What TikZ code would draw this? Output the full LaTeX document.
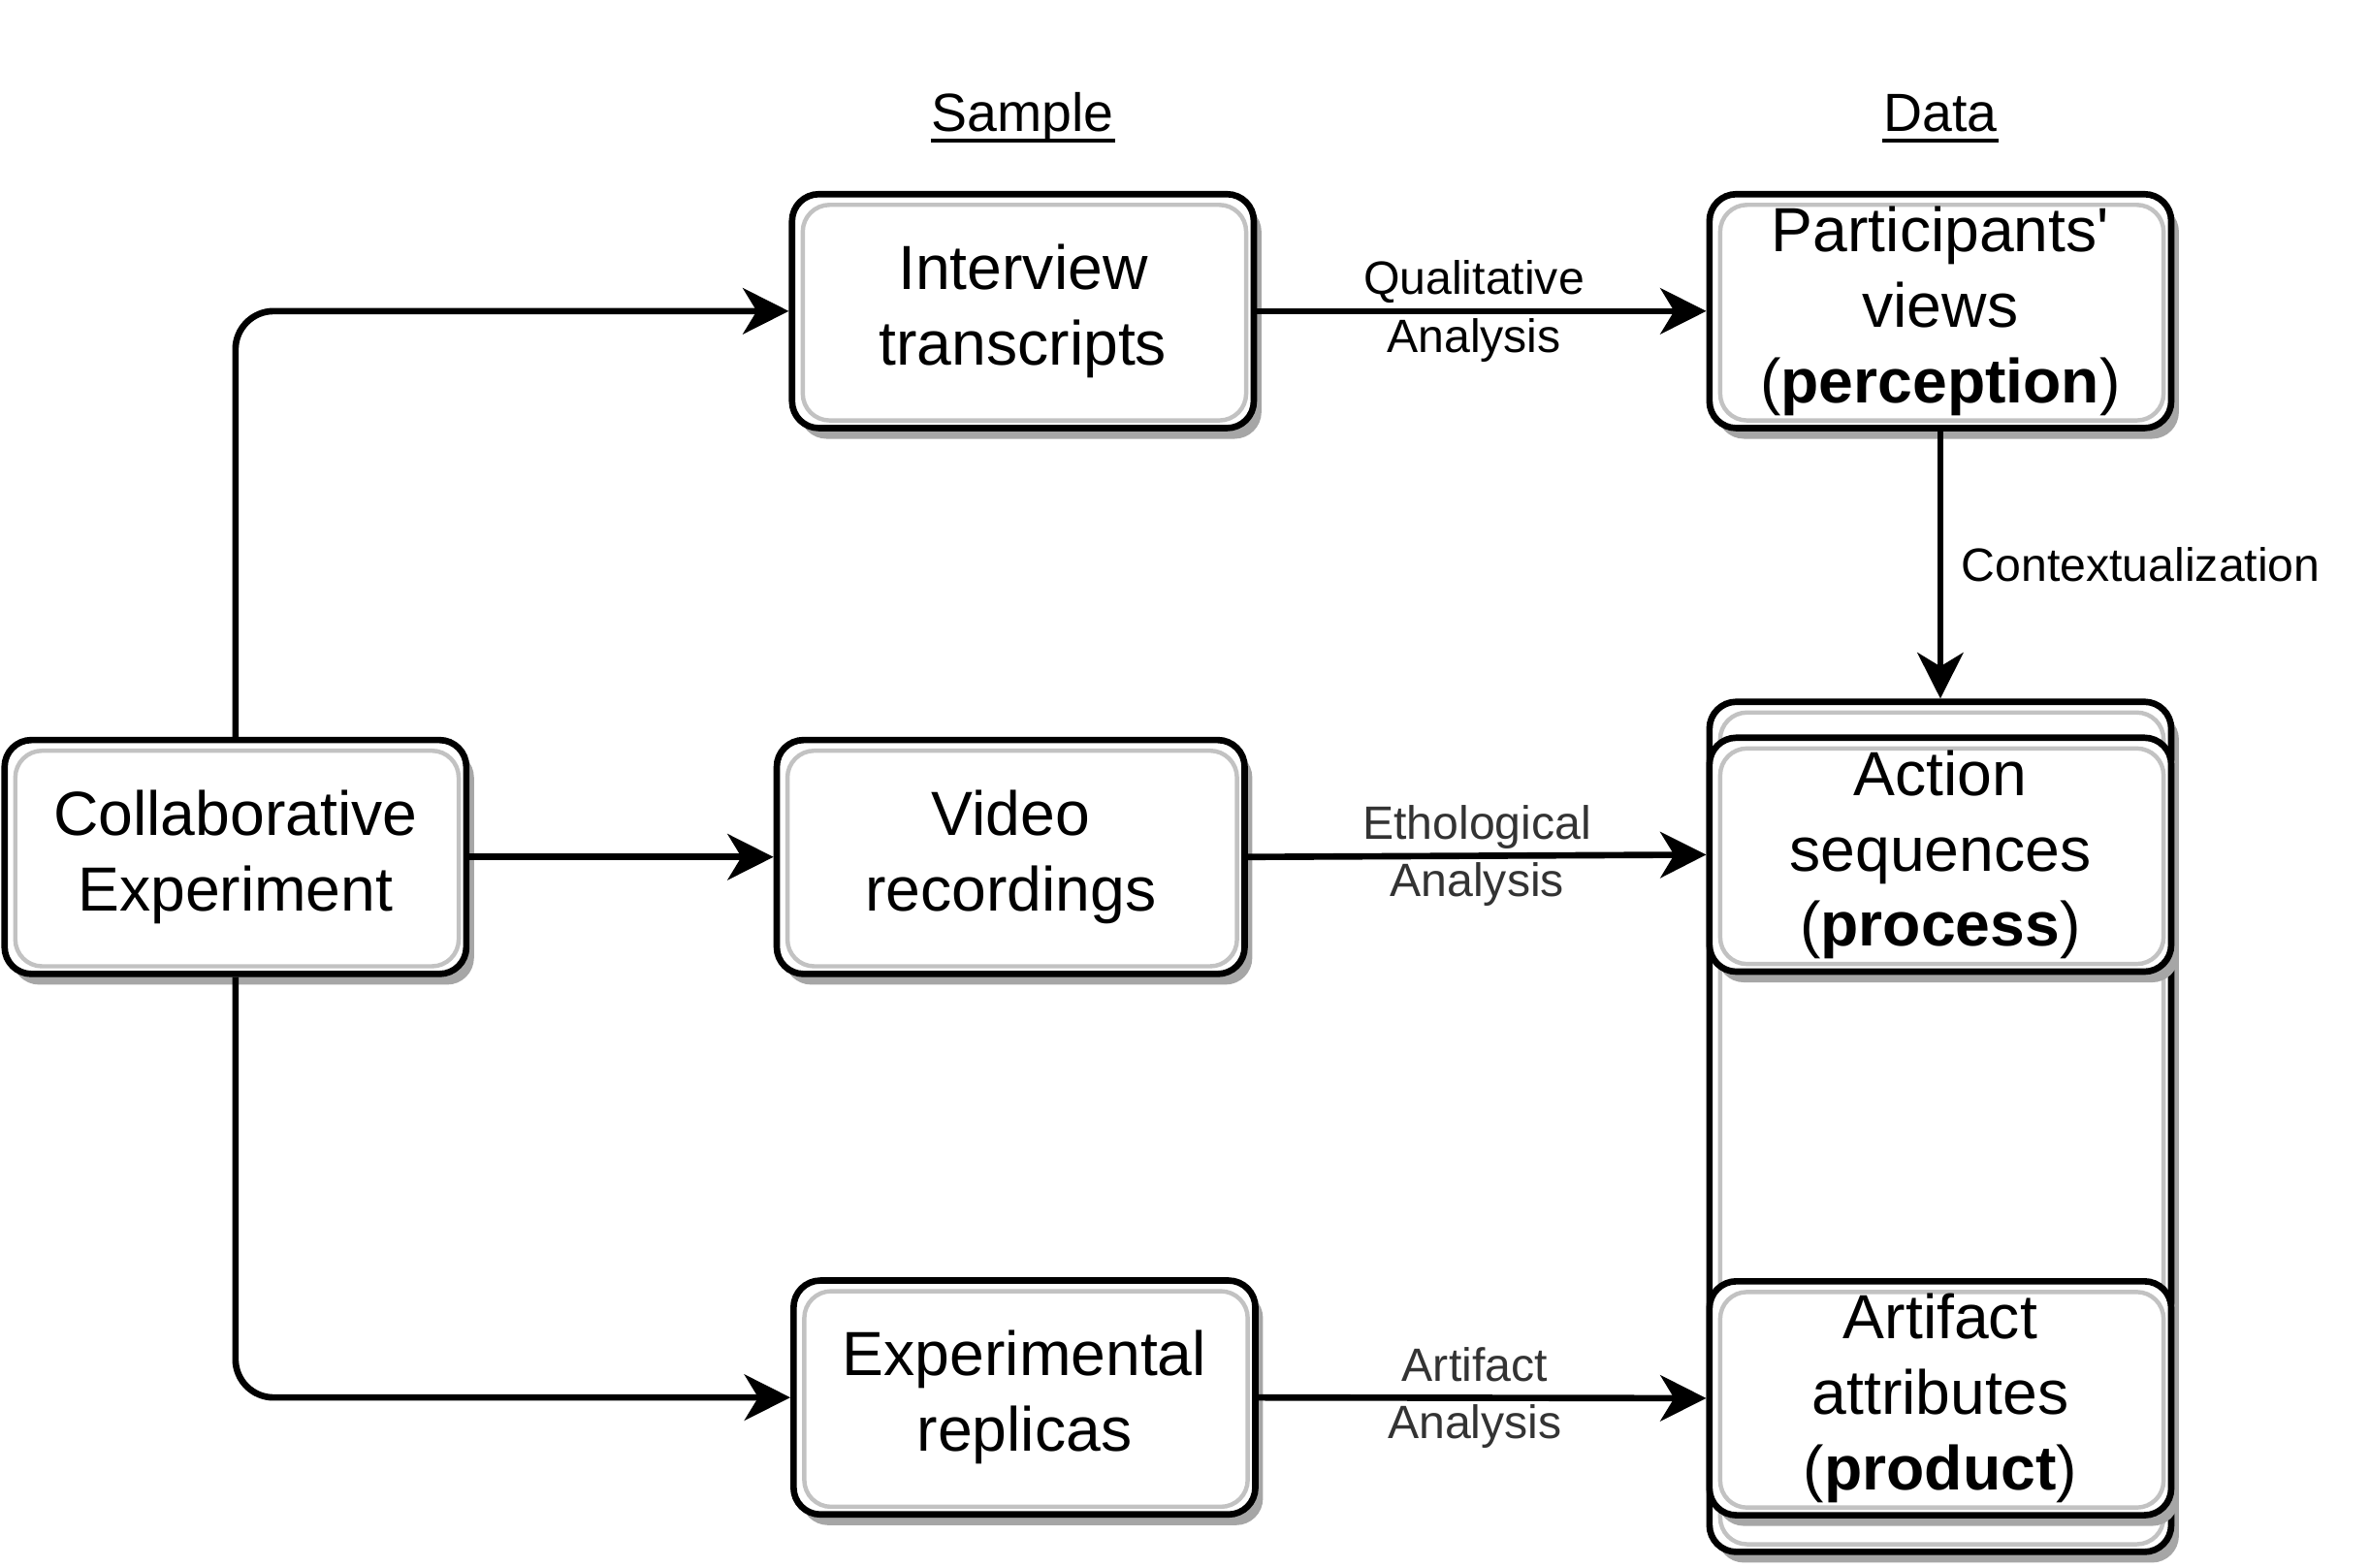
\documentclass[tikz,border=0pt]{standalone}
\usepackage{fontspec}
\setmainfont{Liberation Sans}
\usetikzlibrary{arrows.meta,shadows}
\definecolor{labelgray}{HTML}{333333}
\tikzset{
  sketchbox/.style={rectangle, rounded corners=5pt, draw=black, line width=1.2pt, fill=white,
    minimum width=3.02cm, minimum height=1.53cm, align=center, inner sep=1pt,
    font=\fontsize{11.6}{14}\selectfont,
    drop shadow={shadow xshift=0.05cm, shadow yshift=-0.07cm, fill=black!35, opacity=1},
    path picture={\draw[black!24, line width=0.8pt, rounded corners=5pt]
      ([shift={(0.07,0.05)}]path picture bounding box.south west) rectangle
      ([shift={(-0.05,-0.07)}]path picture bounding box.north east);}},
  flow/.style={line width=1.2pt, -{Stealth[length=3mm, width=3mm, inset=0.9mm]}},
  edgelabel/.style={align=center, font=\fontsize{8.7}{10.8}\selectfont},
  heading/.style={anchor=base, inner sep=0pt, font=\fontsize{10}{12}\selectfont},
  underline/.style={line width=0.6pt}
}
\begin{document}
\begin{tikzpicture}
    \useasboundingbox (0,0) rectangle (15.5,10.25);
    \node[heading] (sample) at (6.69,9.39) {Sample};
    \node[heading] (datahead) at (12.69,9.39) {Data};
    \draw[underline] ([yshift=-1.7pt]sample.base west) -- ([yshift=-1.7pt]sample.base east);
    \draw[underline] ([yshift=-1.7pt]datahead.base west) -- ([yshift=-1.7pt]datahead.base east);
    \node[sketchbox] (collab) at (1.54,4.645) {Collaborative\\Experiment};
    \node[sketchbox] (interview) at (6.69,8.215) {Interview\\transcripts};
    \node[sketchbox, minimum width=3.06cm] (video) at (6.61,4.645) {Video\\recordings};
    \node[sketchbox] (replicas) at (6.70,1.11) {Experimental\\replicas};
    \node[sketchbox] (views) at (12.69,8.215) {Participants\textquotesingle\\views\\(\textbf{perception})};
    \node[sketchbox, minimum height=5.56cm] (data) at (12.69,2.88) {};
    \node[sketchbox] (actions) at (12.69,4.66) {Action\\sequences\\(\textbf{process})};
    \node[sketchbox] (attributes) at (12.69,1.105) {Artifact\\attributes\\(\textbf{product})};
    \draw[flow, rounded corners=0.25cm] (collab.north) |- (interview.west);
    \draw[flow] (collab.east) -- (video.west);
    \draw[flow, rounded corners=0.25cm] (collab.south) |- (replicas.west);
    \draw[flow] (interview.east) -- node[edgelabel, xshift=-0.05cm] {Qualitative\\Analysis} (views.west);
    \draw[flow] (video.east) -- node[edgelabel, text=labelgray] {Ethological\\Analysis} (actions.west);
    \draw[flow] (replicas.east) -- node[edgelabel, text=labelgray, xshift=-0.05cm] {Artifact\\Analysis} (attributes.west);
    \draw[flow] (views.south) -- node[edgelabel, right] {Contextualization} (data.north);
\end{tikzpicture}
\end{document}
